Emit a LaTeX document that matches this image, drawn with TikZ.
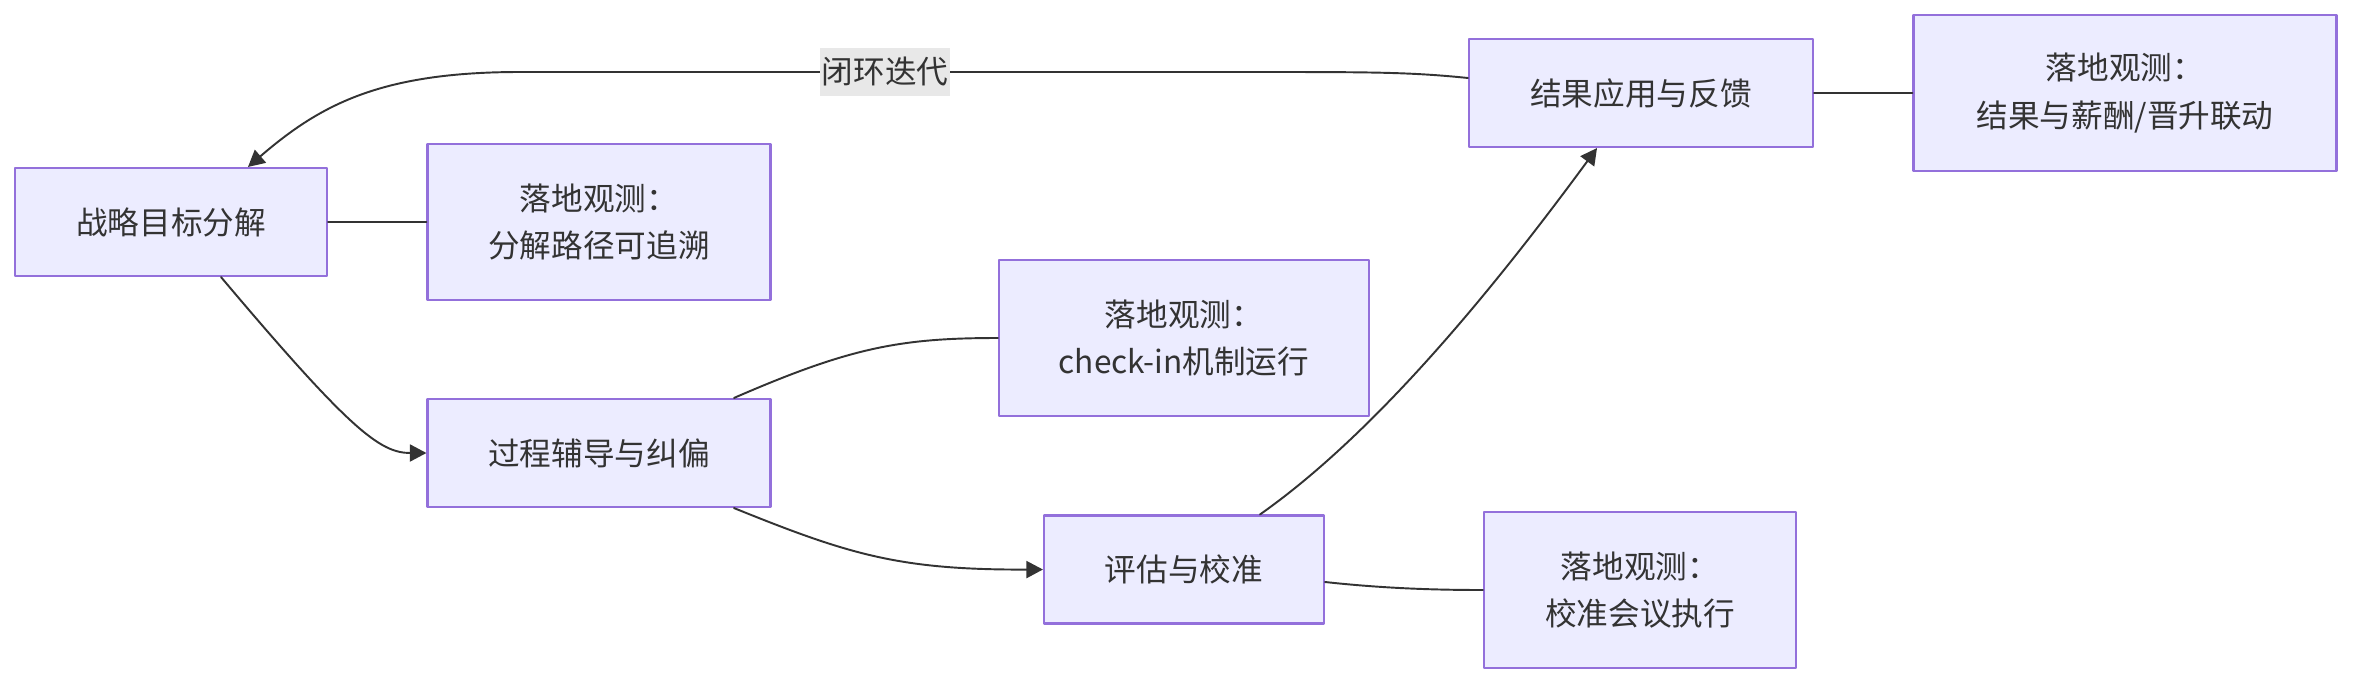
\documentclass[tikz,border=0pt]{standalone}
\usepackage{fontspec}
\setmainfont{Noto Sans CJK SC}
\usetikzlibrary{arrows.meta,positioning,calc}
\definecolor{boxfill}{HTML}{ECECFF}
\definecolor{boxline}{HTML}{9370DB}
\definecolor{ink}{HTML}{333333}
\definecolor{lblfill}{HTML}{E8E8E8}
\tikzset{
  >={Triangle[length=3.3mm,width=3.4mm]},
  every picture/.style={line cap=round, line join=round},
  box/.style={draw=boxline, fill=boxfill, line width=1.2pt, align=center,
    text=ink, font=\fontsize{18}{27}\selectfont, inner sep=0pt},
  stage/.style={box, minimum height=2.16cm},
  obs/.style={box, minimum height=3.12cm},
  arr/.style={->, draw=ink, line width=1.1pt},
  link/.style={draw=ink, line width=1.1pt},
  lbl/.style={fill=lblfill, text=ink, font=\fontsize{18}{21}\selectfont,
    inner sep=1pt, minimum height=0.96cm},
}

\begin{document}
\begin{tikzpicture}
  \useasboundingbox (0,0) rectangle (47.06,-13.68);

  % ---------------- stages ----------------
  \node[stage, minimum width=6.24cm] (goal) at (3.42,-4.44) {战略目标分解};
  \node[stage, minimum width=6.86cm] (coach) at (11.98,-9.06) {过程辅导与纠偏};
  \node[stage, minimum width=5.60cm] (calib) at (23.68,-11.39) {评估与校准};
  \node[stage, minimum width=6.88cm] (apply) at (32.82,-1.86) {结果应用与反馈};

  % ---------------- observations ----------------
  \node[obs, minimum width=6.86cm] (obsgoal) at (11.98,-4.44) {落地观测：\\ 分解路径可追溯};
  \node[obs, minimum width=7.40cm] (obscoach) at (23.68,-6.76) {落地观测：\\ check-in机制运行};
  \node[obs, minimum width=6.24cm] (obscalib) at (32.80,-11.80) {落地观测：\\ 校准会议执行};
  \node[obs, minimum width=8.46cm] (obsapply) at (42.50,-1.86) {落地观测：\\ 结果与薪酬/晋升联动};

  % ---------------- flow ----------------
  \draw[arr] ([xshift=1cm]goal.south) .. controls (7.0,-8.6) and (7.6,-9.06) .. (coach.west);
  \draw[arr] ([xshift=2.7cm]coach.south) .. controls (17.0,-11.1) and (18.0,-11.40) .. (calib.west);
  \draw[arr] ([xshift=1.52cm]calib.north) .. controls (27.6,-8.6) and (30.0,-5.6) .. ([xshift=-0.88cm]apply.south);
  \draw[arr] ([yshift=0.3cm]apply.west) .. controls (28.2,-1.44) and (27.4,-1.44) .. (25.0,-1.44)
    -- node[lbl, pos=0.5] (loop) {闭环迭代} (10.4,-1.44)
    .. controls (7.6,-1.44) and (6.4,-2.1) .. ([xshift=1.54cm]goal.north);

  % ---------------- links to observations ----------------
  \draw[link] (goal) -- (obsgoal);
  \draw[link] ([xshift=2.7cm]coach.north) .. controls (17.0,-6.95) and (18.0,-6.76) .. (obscoach.west);
  \draw[link] ([yshift=-0.25cm]calib.east) .. controls (27.6,-11.76) and (28.6,-11.80) .. (obscalib.west);
  \draw[link] (apply) -- (obsapply);
\end{tikzpicture}
\end{document}
